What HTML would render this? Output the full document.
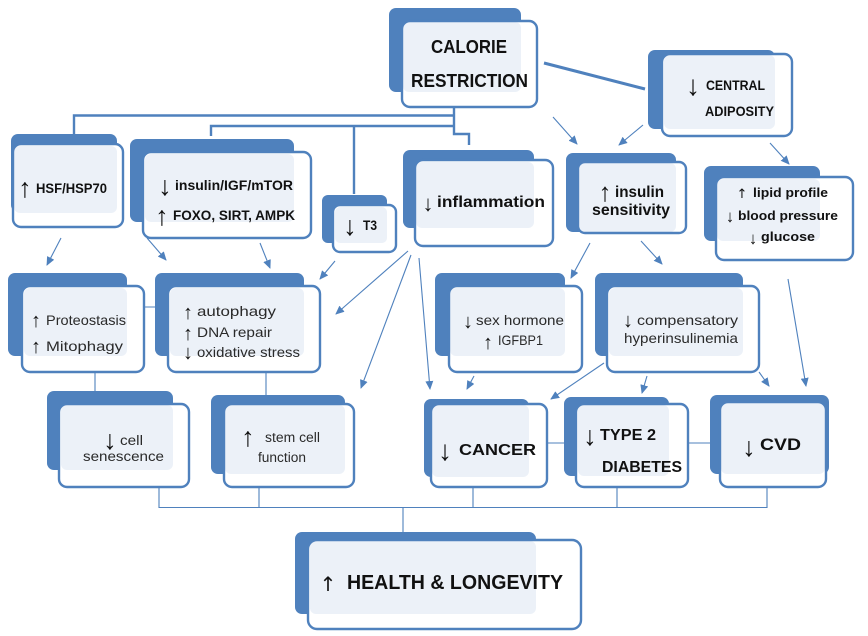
<!DOCTYPE html>
<html><head><meta charset="utf-8"><style>
html,body{margin:0;padding:0;background:#fff}
svg{display:block}
.b{fill:#4f81bd}
.f{fill:#fff}
.p{fill:#ecf1f8}
.s{fill:none;stroke:#4f81bd;stroke-width:2.4}
.t{fill:none;stroke:#4f81bd;stroke-width:1.1}
.m{fill:none;stroke:#4f81bd;stroke-width:2.4}
.l{fill:none;stroke:#4f81bd;stroke-width:3}
text{font-family:"Liberation Sans",sans-serif;fill:#111}
.bd{font-weight:bold}
.r{fill:#2a2a2a}
.a{text-anchor:middle}
.d{text-anchor:middle;font-family:"DejaVu Sans",sans-serif}
</style></head><body>
<svg width="868" height="636" viewBox="0 0 868 636" xmlns="http://www.w3.org/2000/svg">
<defs><marker id="h" markerWidth="9" markerHeight="8" refX="8" refY="4" orient="auto" markerUnits="userSpaceOnUse"><path d="M0 0L9 4L0 8Z" fill="#4f81bd"/></marker></defs>

<!-- thick connectors -->
<path class="m" d="M454 95V134H469V145M74 134V115.500H454M211 136V126H454M354 194V126"/>
<path class="l" d="M544 63L645 89"/>

<!-- thin connectors -->
<path class="t" d="M144 307H155M95 372V391M266 372V395M547 443H564M688 443H710M159 487V507.500H767V487M259 487V507M473 487V507M617 487V507M403 507V532"/>

<!-- arrows -->
<path class="t" marker-end="url(#h)" d="M61 238L47 265"/>
<path class="t" marker-end="url(#h)" d="M147 238L166 260"/>
<path class="t" marker-end="url(#h)" d="M260 243L270 268"/>
<path class="t" marker-end="url(#h)" d="M335 261L320 279"/>
<path class="t" marker-end="url(#h)" d="M408 251L336 314"/>
<path class="t" marker-end="url(#h)" d="M411 255L361 388"/>
<path class="t" marker-end="url(#h)" d="M419 258L430 389"/>
<path class="t" marker-end="url(#h)" d="M590 243L571 278"/>
<path class="t" marker-end="url(#h)" d="M641 241L662 264"/>
<path class="t" marker-end="url(#h)" d="M553 117L577 144"/>
<path class="t" marker-end="url(#h)" d="M643 125L619 145"/>
<path class="t" marker-end="url(#h)" d="M770 143L789 164"/>
<path class="t" marker-end="url(#h)" d="M788 279L806 386"/>
<path class="t" marker-end="url(#h)" d="M474 376L467 389"/>
<path class="t" marker-end="url(#h)" d="M604 363L551 399"/>
<path class="t" marker-end="url(#h)" d="M647 376L642 393"/>
<path class="t" marker-end="url(#h)" d="M759 372L769 386"/>

<!-- CALORIE -->
<rect class="b" x="389" y="8" width="132" height="84" rx="7"/><rect class="f" x="402" y="21" width="135" height="86" rx="8"/><rect class="p" x="403" y="22" width="118" height="70" rx="6"/><rect class="s" x="402" y="21" width="135" height="86" rx="8"/>
<!-- CENTRAL -->
<rect class="b" x="648" y="50" width="127" height="79" rx="7"/><rect class="f" x="662" y="54" width="130" height="82" rx="8"/><rect class="p" x="664" y="55" width="111" height="74" rx="6"/><rect class="s" x="662" y="54" width="130" height="82" rx="8"/>
<!-- HSF -->
<rect class="b" x="11" y="134" width="106" height="78" rx="7"/><rect class="f" x="13" y="144" width="110" height="83" rx="8"/><rect class="p" x="14" y="146" width="103" height="67" rx="6"/><rect class="s" x="13" y="144" width="110" height="83" rx="8"/>
<!-- insulin -->
<rect class="b" x="130" y="139" width="164" height="83" rx="7"/><rect class="f" x="143" y="152" width="168" height="86" rx="8"/><rect class="p" x="145" y="154" width="149" height="68" rx="6"/><rect class="s" x="143" y="152" width="168" height="86" rx="8"/>
<!-- T3 -->
<rect class="b" x="322" y="195" width="65" height="48" rx="6"/><rect class="f" x="333" y="205" width="63" height="47" rx="7"/><rect class="p" x="335" y="207" width="52" height="36" rx="5"/><rect class="s" x="333" y="205" width="63" height="47" rx="7"/>
<!-- inflammation -->
<rect class="b" x="403" y="150" width="131" height="78" rx="7"/><rect class="f" x="415" y="160" width="138" height="86" rx="8"/><rect class="p" x="416" y="162" width="118" height="66" rx="6"/><rect class="s" x="415" y="160" width="138" height="86" rx="8"/>
<!-- insulin sensitivity -->
<rect class="b" x="566" y="153" width="110" height="79" rx="7"/><rect class="f" x="578" y="162" width="108" height="71" rx="7"/><rect class="p" x="578" y="163" width="98" height="69" rx="6"/><rect class="s" x="578" y="162" width="108" height="71" rx="7"/>
<!-- lipid -->
<rect class="b" x="704" y="166" width="116" height="75" rx="7"/><rect class="f" x="716" y="177" width="137" height="83" rx="8"/><rect class="p" x="717" y="179" width="103" height="62" rx="6"/><rect class="s" x="716" y="177" width="137" height="83" rx="8"/>
<!-- proteostasis -->
<rect class="b" x="8" y="273" width="119" height="83" rx="7"/><rect class="f" x="22" y="286" width="122" height="86" rx="8"/><rect class="p" x="24" y="288" width="103" height="68" rx="6"/><rect class="s" x="22" y="286" width="122" height="86" rx="8"/>
<!-- autophagy -->
<rect class="b" x="155" y="273" width="149" height="83" rx="7"/><rect class="f" x="168" y="286" width="152" height="86" rx="8"/><rect class="p" x="170" y="288" width="134" height="68" rx="6"/><rect class="s" x="168" y="286" width="152" height="86" rx="8"/>
<!-- cell -->
<rect class="b" x="47" y="391" width="126" height="79" rx="7"/><rect class="f" x="59" y="404" width="130" height="83" rx="8"/><rect class="p" x="61" y="405" width="112" height="65" rx="6"/><rect class="s" x="59" y="404" width="130" height="83" rx="8"/>
<!-- stem -->
<rect class="b" x="211" y="395" width="134" height="79" rx="7"/><rect class="f" x="224" y="404" width="130" height="83" rx="8"/><rect class="p" x="225" y="405" width="120" height="69" rx="6"/><rect class="s" x="224" y="404" width="130" height="83" rx="8"/>
<!-- sex -->
<rect class="b" x="435" y="273" width="130" height="83" rx="7"/><rect class="f" x="449" y="286" width="133" height="86" rx="8"/><rect class="p" x="450" y="288" width="115" height="68" rx="6"/><rect class="s" x="449" y="286" width="133" height="86" rx="8"/>
<!-- compensatory -->
<rect class="b" x="595" y="273" width="148" height="83" rx="7"/><rect class="f" x="607" y="286" width="152" height="86" rx="8"/><rect class="p" x="609" y="288" width="134" height="68" rx="6"/><rect class="s" x="607" y="286" width="152" height="86" rx="8"/>
<!-- cancer -->
<rect class="b" x="424" y="399" width="105" height="78" rx="7"/><rect class="f" x="431" y="404" width="116" height="83" rx="8"/><rect class="p" x="432" y="405" width="97" height="72" rx="6"/><rect class="s" x="431" y="404" width="116" height="83" rx="8"/>
<!-- t2 -->
<rect class="b" x="564" y="397" width="105" height="79" rx="7"/><rect class="f" x="576" y="404" width="112" height="83" rx="8"/><rect class="p" x="578" y="405" width="91" height="71" rx="6"/><rect class="s" x="576" y="404" width="112" height="83" rx="8"/>
<!-- cvd -->
<rect class="b" x="710" y="395" width="119" height="79" rx="7"/><rect class="f" x="720" y="402" width="106" height="85" rx="8"/><rect class="p" x="721" y="403" width="104" height="71" rx="6"/><rect class="s" x="720" y="402" width="106" height="85" rx="8"/>
<!-- health -->
<rect class="b" x="295" y="532" width="241" height="82" rx="7"/><rect class="f" x="308" y="540" width="273" height="89" rx="9"/><rect class="p" x="310" y="541" width="226" height="73" rx="6"/><rect class="s" x="308" y="540" width="273" height="89" rx="9"/>

<!-- labels -->
<g class="bd">
<text x="431" y="53" font-size="18" textLength="76" lengthAdjust="spacingAndGlyphs">CALORIE</text>
<text x="411" y="87" font-size="18" textLength="117" lengthAdjust="spacingAndGlyphs">RESTRICTION</text>
<text x="706" y="90" font-size="13.500" textLength="59" lengthAdjust="spacingAndGlyphs">CENTRAL</text>
<text x="705" y="116" font-size="13.500" textLength="69" lengthAdjust="spacingAndGlyphs">ADIPOSITY</text>
<text x="36" y="193" font-size="13.500" textLength="71" lengthAdjust="spacingAndGlyphs">HSF/HSP70</text>
<text x="175" y="190" font-size="13.500" textLength="118" lengthAdjust="spacingAndGlyphs">insulin/IGF/mTOR</text>
<text x="173" y="220" font-size="13.500" textLength="122" lengthAdjust="spacingAndGlyphs">FOXO, SIRT,  AMPK</text>
<text x="363" y="230" font-size="13.500" textLength="14" lengthAdjust="spacingAndGlyphs">T3</text>
<text x="437" y="207" font-size="16" textLength="108" lengthAdjust="spacingAndGlyphs">inflammation</text>
<text x="615" y="197" font-size="15.500" textLength="49" lengthAdjust="spacingAndGlyphs">insulin</text>
<text x="592" y="215" font-size="15.500" textLength="78" lengthAdjust="spacingAndGlyphs">sensitivity</text>
<text x="753" y="197" font-size="13" textLength="75" lengthAdjust="spacingAndGlyphs">lipid profile</text>
<text x="738" y="220" font-size="13" textLength="100" lengthAdjust="spacingAndGlyphs">blood pressure</text>
<text x="761" y="241" font-size="13" textLength="54" lengthAdjust="spacingAndGlyphs">glucose</text>
<text x="459" y="455" font-size="16" textLength="77" lengthAdjust="spacingAndGlyphs">CANCER</text>
<text x="600" y="440" font-size="16" textLength="56" lengthAdjust="spacingAndGlyphs">TYPE 2</text>
<text x="602" y="472" font-size="16" textLength="80" lengthAdjust="spacingAndGlyphs">DIABETES</text>
<text x="760" y="450" font-size="17" textLength="41" lengthAdjust="spacingAndGlyphs">CVD</text>
<text x="347" y="589" font-size="20" textLength="216" lengthAdjust="spacingAndGlyphs">HEALTH &amp; LONGEVITY</text>
</g>
<g>
<text class="r" x="46" y="325" font-size="14" textLength="80" lengthAdjust="spacingAndGlyphs">Proteostasis</text>
<text class="r" x="46" y="351" font-size="14" textLength="77" lengthAdjust="spacingAndGlyphs">Mitophagy</text>
<text class="r" x="197" y="316" font-size="14" textLength="79" lengthAdjust="spacingAndGlyphs">autophagy</text>
<text class="r" x="197" y="337" font-size="14" textLength="75" lengthAdjust="spacingAndGlyphs">DNA repair</text>
<text class="r" x="197" y="357" font-size="14" textLength="103" lengthAdjust="spacingAndGlyphs">oxidative stress</text>
<text class="r" x="120" y="445" font-size="13.500" textLength="23" lengthAdjust="spacingAndGlyphs">cell</text>
<text class="r" x="83" y="461" font-size="13.500" textLength="81" lengthAdjust="spacingAndGlyphs">senescence</text>
<text class="r" x="265" y="442" font-size="13.500" textLength="55" lengthAdjust="spacingAndGlyphs">stem cell</text>
<text class="r" x="258" y="462" font-size="13.500" textLength="48" lengthAdjust="spacingAndGlyphs">function</text>
<text class="r" x="476" y="325" font-size="14" textLength="88" lengthAdjust="spacingAndGlyphs">sex hormone</text>
<text class="r" x="498" y="345" font-size="14" textLength="45" lengthAdjust="spacingAndGlyphs">IGFBP1</text>
<text class="r" x="637" y="325" font-size="14" textLength="101" lengthAdjust="spacingAndGlyphs">compensatory</text>
<text class="r" x="624" y="343" font-size="14" textLength="114" lengthAdjust="spacingAndGlyphs">hyperinsulinemia</text>
</g>

<!-- arrow glyphs -->
<g>
<text class="a" x="25" y="197" font-size="27">↑</text>
<text class="a" x="165" y="195" font-size="27">↓</text>
<text class="a" x="162" y="225" font-size="27">↑</text>
<text class="a" x="350" y="235" font-size="27">↓</text>
<text class="a" x="428" y="211" font-size="22">↓</text>
<text class="a" x="605" y="201" font-size="26">↑</text>
<text class="a" x="693" y="95" font-size="28">↓</text>
<text class="d" x="742" y="198" font-size="13">↑</text>
<text class="a" x="730" y="222" font-size="17">↓</text>
<text class="a" x="753" y="244" font-size="17">↓</text>
<text class="a" x="36" y="327" font-size="20">↑</text>
<text class="a" x="36" y="353" font-size="20">↑</text>
<text class="a" x="188" y="319" font-size="20">↑</text>
<text class="a" x="188" y="340" font-size="20">↑</text>
<text class="a" x="188" y="359" font-size="20">↓</text>
<text class="a" x="110" y="449" font-size="27">↓</text>
<text class="a" x="248" y="446" font-size="27">↑</text>
<text class="a" x="468" y="328" font-size="20">↓</text>
<text class="a" x="488" y="349" font-size="20">↑</text>
<text class="a" x="628" y="327" font-size="20">↓</text>
<text class="a" x="445" y="460" font-size="28">↓</text>
<text class="a" x="590" y="445" font-size="27">↓</text>
<text class="a" x="749" y="456" font-size="27">↓</text>
<text class="d" x="328" y="591" font-size="20">↑</text>
</g>
</svg>
</body></html>
